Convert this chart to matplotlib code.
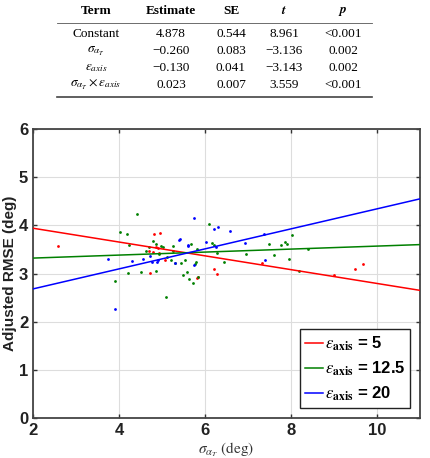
import matplotlib
matplotlib.use("Agg")
import matplotlib.pyplot as plt
from matplotlib.lines import Line2D

plt.rcParams['mathtext.fontset'] = 'stix'

# regression table
table_cols = ['Term', 'Estimate', 'SE', '$\\boldsymbol{t}$', '$\\boldsymbol{p}$']
table_terms = ['Constant', r'$\sigma_{\alpha_T}$', r'$\epsilon_{axis}$', r'$\sigma_{\alpha_T}\times\epsilon_{axis}$']
table_est = ['4.878', '\u22120.260', '\u22120.130', '0.023']
table_se = ['0.544', '0.083', '0.041', '0.007']
table_t = ['8.961', '\u22123.136', '\u22123.143', '3.559']
table_p = ['<0.001', '0.002', '0.002', '<0.001']

# fitted lines (value at x=2 and x=11)
line_x = [2, 11]
red_line = [3.94, 2.65]
green_line = [3.32, 3.60]
blue_line = [2.68, 4.55]

# scatter points, epsilon_axis = 5
red_x = [2.59, 4.72, 4.70, 4.80, 4.81, 4.95, 4.86, 4.91, 4.94, 5.08, 5.84, 5.81, 6.20, 6.29,
         7.33, 8.99, 9.49, 9.68]
red_y = [3.57, 3.01, 3.46, 3.45, 3.81, 3.85, 3.54, 3.53, 3.43, 3.29, 2.92, 2.90, 3.10, 3.00,
         3.21, 2.96, 3.09, 3.19]
# epsilon_axis = 12.5
green_x = [4.03, 3.91, 4.19, 4.24, 4.20, 4.43, 4.52, 4.62, 4.70, 4.80, 4.87, 4.86, 4.97, 5.03,
           4.94, 5.12, 5.10, 5.25, 5.25, 5.21, 5.30, 5.53, 5.45, 5.77, 5.80, 5.58, 5.50, 5.62,
           5.72, 5.84, 5.67, 5.81, 6.10, 6.17, 6.20, 6.27, 6.44, 6.96, 7.50, 7.76, 7.87, 7.90,
           8.02, 8.40, 7.61, 7.96, 8.19]
green_y = [3.86, 2.85, 3.82, 3.59, 3.01, 4.23, 3.04, 3.46, 3.54, 3.67, 3.62, 3.05, 3.57, 3.54,
           3.41, 3.35, 2.52, 3.57, 3.47, 3.28, 3.22, 3.28, 3.21, 3.20, 3.24, 3.03, 2.96, 2.88,
           2.81, 2.93, 3.61, 3.50, 4.02, 3.64, 3.60, 3.43, 3.24, 3.40, 3.62, 3.59, 3.65, 3.62,
           3.79, 3.50, 3.39, 3.31, 3.06]
# epsilon_axis = 20
blue_x = [3.75, 3.91, 4.31, 4.55, 4.72, 4.76, 4.89, 4.91, 5.30, 5.40, 5.41, 5.61, 5.61, 5.74,
          5.75, 6.02, 6.22, 6.30, 6.25, 6.57, 6.92, 7.37, 7.40]
blue_y = [3.31, 2.27, 3.25, 3.31, 3.36, 3.24, 3.23, 3.29, 3.22, 3.69, 3.71, 3.60, 3.57, 4.15,
          3.17, 3.65, 3.93, 3.97, 3.54, 3.89, 3.64, 3.82, 3.28]

x_ticks = [2, 4, 6, 8, 10]
y_ticks = [0, 1, 2, 3, 4, 5, 6]
legend_labels = [r'$\epsilon_{\mathbf{axis}}$ = 5', r'$\epsilon_{\mathbf{axis}}$ = 12.5',
                 r'$\epsilon_{\mathbf{axis}}$ = 20']

RED = '#ff0000'
GREEN = '#008000'
BLUE = '#0000ff'

fig = plt.figure(figsize=(4.31, 4.58), dpi=100)

# ---- table on top ----
W, H = 431, 458
col_x = [96, 171, 231, 284, 343]
row_y = [34, 51, 68, 85]
tfont = dict(family='Liberation Serif', size=9.5, ha='center', va='center')
for cx, name in zip(col_x, table_cols):
    fig.text(cx / W, 1 - 11 / H, name, fontweight='bold', **tfont)
columns = [table_terms, table_est, table_se, table_t, table_p]
for cx, col in zip(col_x, columns):
    for ry, val in zip(row_y, col):
        fig.text(cx / W, 1 - ry / H, val, **tfont)
fig.add_artist(Line2D([57 / W, 372 / W], [1 - 23 / H, 1 - 23 / H], color='#555555', lw=0.6))
fig.add_artist(Line2D([57 / W, 372 / W], [1 - 97 / H, 1 - 97 / H], color='#444444', lw=1.2))

# ---- scatter / line plot ----
ax = fig.add_axes([33 / W, 1 - 418 / H, 387 / W, 289 / H])
ax.scatter(red_x, red_y, s=4, color=RED, zorder=3, linewidths=0)
ax.scatter(green_x, green_y, s=4, color=GREEN, zorder=3, linewidths=0)
ax.scatter(blue_x, blue_y, s=4, color=BLUE, zorder=3, linewidths=0)
ax.plot(line_x, red_line, color=RED, lw=1.1, label=legend_labels[0], zorder=4)
ax.plot(line_x, green_line, color=GREEN, lw=1.1, label=legend_labels[1], zorder=4)
ax.plot(line_x, blue_line, color=BLUE, lw=1.1, label=legend_labels[2], zorder=4)

ax.set_xlim(2, 11)
ax.set_ylim(0, 6)
ax.set_xticks(x_ticks)
ax.set_yticks(y_ticks)
ax.grid(True, color='#dddddd', lw=0.8)
ax.set_axisbelow(True)
ax.tick_params(direction='in', length=3, width=1, colors='#333333', top=True, right=True,
               labelsize=12)
for lab in ax.get_xticklabels() + ax.get_yticklabels():
    lab.set_fontweight('bold')
    lab.set_fontfamily('Liberation Sans')
    lab.set_color('#222222')
for sp in ax.spines.values():
    sp.set_color('#444444')
    sp.set_linewidth(1.3)

ax.set_ylabel('Adjusted RMSE (deg)', fontsize=11, fontweight='bold',
              fontfamily='Liberation Sans', color='#222222', labelpad=1)
ax.set_xlabel(r'$\sigma_{\alpha_T}$ (deg)', fontsize=11, fontfamily='STIXGeneral',
              color='#333333', labelpad=2)

leg = ax.legend(loc='lower right', prop={'family': 'Liberation Sans', 'weight': 'bold', 'size': 12},
                handlelength=1.1, handletextpad=0.1, borderpad=0.3, labelspacing=0.4,
                fancybox=False, framealpha=1, edgecolor='#222222', borderaxespad=0.6)
leg.get_frame().set_linewidth(1.0)

fig.savefig('out.png', dpi=100)
